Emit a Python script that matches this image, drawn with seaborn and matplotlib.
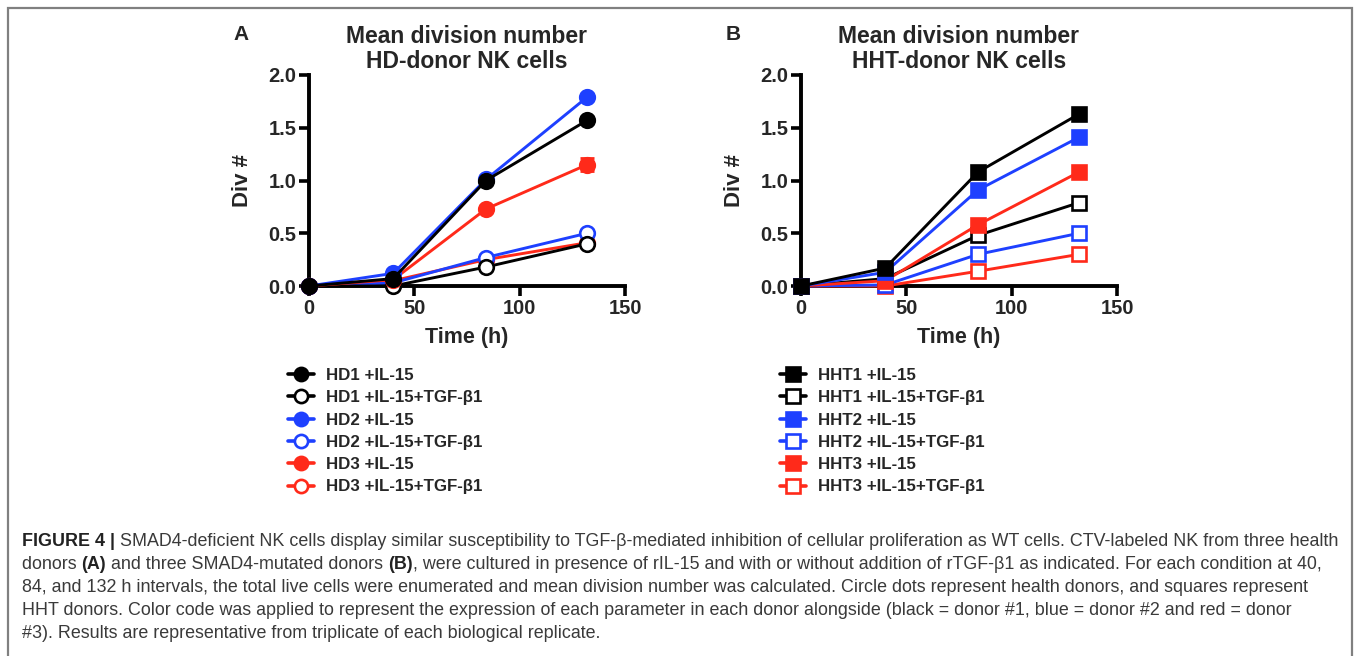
import numpy as np
import pandas as pd
import matplotlib
matplotlib.use("Agg")
import matplotlib.pyplot as plt
import seaborn as sns
from matplotlib.lines import Line2D
from matplotlib.patches import Rectangle

# ---------------- data ----------------
time_h = [0, 40, 84, 132]

hd_labels = ["HD1 +IL-15", "HD1 +IL-15+TGF-β1", "HD2 +IL-15",
             "HD2 +IL-15+TGF-β1", "HD3 +IL-15", "HD3 +IL-15+TGF-β1"]
hd1_il15 = [0, 0.07, 1.00, 1.57]
hd1_tgf = [0, 0.00, 0.18, 0.40]
hd2_il15 = [0, 0.12, 1.01, 1.79]
hd2_tgf = [0, 0.03, 0.27, 0.50]
hd3_il15 = [0, 0.06, 0.73, 1.15]
hd3_tgf = [0, 0.05, 0.25, 0.41]
hd3_il15_err = [0, 0, 0, 0.06]

hht_labels = ["HHT1 +IL-15", "HHT1 +IL-15+TGF-β1", "HHT2 +IL-15",
              "HHT2 +IL-15+TGF-β1", "HHT3 +IL-15", "HHT3 +IL-15+TGF-β1"]
hht1_il15 = [0, 0.17, 1.08, 1.63]
hht1_tgf = [0, 0.07, 0.48, 0.79]
hht2_il15 = [0, 0.13, 0.91, 1.41]
hht2_tgf = [0, 0.01, 0.30, 0.50]
hht3_il15 = [0, 0.05, 0.58, 1.08]
hht3_tgf = [0, 0.00, 0.14, 0.30]

x_ticks = [0, 50, 100, 150]
y_ticks = [0.0, 0.5, 1.0, 1.5, 2.0]

caption_lines = [
    [("FIGURE 4 |", True), (" SMAD4-deficient NK cells display similar susceptibility to TGF-β-mediated inhibition of cellular proliferation as WT cells. CTV-labeled NK from three health", False)],
    [("donors ", False), ("(A)", True), (" and three SMAD4-mutated donors ", False), ("(B)", True), (", were cultured in presence of rIL-15 and with or without addition of rTGF-β1 as indicated. For each condition at 40,", False)],
    [("84, and 132 h intervals, the total live cells were enumerated and mean division number was calculated. Circle dots represent health donors, and squares represent", False)],
    [("HHT donors. Color code was applied to represent the expression of each parameter in each donor alongside (black = donor #1, blue = donor #2 and red = donor", False)],
    [("#3). Results are representative from triplicate of each biological replicate.", False)],
]

BLACK = "#000000"
BLUE = "#1E40FF"
RED = "#FF2A1A"
colors = [BLACK, BLACK, BLUE, BLUE, RED, RED]
filled = [True, False, True, False, True, False]

sns.set_theme(style="ticks")
plt.rcParams["font.family"] = ["Liberation Sans", "DejaVu Sans"]
plt.rcParams["font.weight"] = "bold"

W, H = 1357, 656
fig = plt.figure(figsize=(W / 100, H / 100), dpi=100)

# outer frame
fig.patches.append(Rectangle((7.5 / W, -0.01), (1352 - 7.5) / W, (H - 8.5) / H + 0.01,
                             transform=fig.transFigure, fill=False,
                             edgecolor="#808080", linewidth=1.6))


def panel(left_px, series, labels, marker, title, letter, letter_x, err=None):
    ax = fig.add_axes([left_px / W, 1 - 286 / H, 316 / W, (286 - 75) / H])
    ms = 10.5 if marker == "o" else 10
    order = [5, 3, 1, 4, 2, 0]
    for i in order:
        df = pd.DataFrame({"t": time_h, "v": series[i]})
        mfc = colors[i] if filled[i] else "white"
        sns.lineplot(data=df, x="t", y="v", ax=ax, color=colors[i], marker=marker,
                     markersize=ms, markerfacecolor=mfc, markeredgecolor=colors[i],
                     markeredgewidth=1.9, linewidth=2.1, clip_on=False,
                     zorder=3 + (1 if filled[i] else 0), legend=False)
    if err is not None:
        idx, e = err
        ax.errorbar(time_h, series[idx], yerr=e, fmt="none", ecolor=colors[idx],
                    elinewidth=2.0, capsize=5, capthick=2.0, zorder=2, clip_on=False)
    handles = []
    for i in range(6):
        mfc = colors[i] if filled[i] else "white"
        handles.append(Line2D([0], [0], color=colors[i], marker=marker,
                              markersize=9.5, markerfacecolor=mfc,
                              markeredgecolor=colors[i], markeredgewidth=1.9,
                              linewidth=2.6))
    ax.set_xlim(0, 150)
    ax.set_ylim(0, 2.0)
    ax.set_xticks(x_ticks)
    ax.set_yticks(y_ticks)
    ax.set_xticklabels([str(t) for t in x_ticks], fontsize=14.5, fontweight="bold")
    ax.set_yticklabels([f"{t:.1f}" for t in y_ticks], fontsize=14.5, fontweight="bold")
    ax.tick_params(axis="both", width=2.6, length=7, color="black", pad=2)
    for s in ["left", "bottom"]:
        ax.spines[s].set_linewidth(2.8)
        ax.spines[s].set_color("black")
    sns.despine(ax=ax)
    ax.set_xlabel("Time (h)", fontsize=15.5, fontweight="bold", labelpad=7)
    ax.set_ylabel("Div #", fontsize=16, fontweight="bold", labelpad=11)
    ax.set_title(title, fontsize=16.5, fontweight="bold", pad=5, linespacing=1.1)
    fig.text(letter_x / W, 1 - 35 / H, letter, fontsize=15, fontweight="bold",
             ha="center", va="center")
    fig.legend(handles=handles, labels=labels, loc="upper left",
               bbox_to_anchor=((left_px - 21) / W, 1 - 368 / H),
               frameon=False, handlelength=1.55, handletextpad=0.7,
               labelspacing=0.43, borderpad=0, borderaxespad=0,
               prop={"weight": "bold", "size": 12.2})
    return ax


panel(309, [hd1_il15, hd1_tgf, hd2_il15, hd2_tgf, hd3_il15, hd3_tgf], hd_labels, "o",
      "Mean division number\nHD-donor NK cells", "A", 241, err=(4, hd3_il15_err))
panel(801, [hht1_il15, hht1_tgf, hht2_il15, hht2_tgf, hht3_il15, hht3_tgf], hht_labels, "s",
      "Mean division number\nHHT-donor NK cells", "B", 733)

# ---------------- caption ----------------
fig.canvas.draw()
renderer = fig.canvas.get_renderer()
cap_color = "#3a3a3a"
base_y = [546, 569, 592, 615, 638]
for line, yb in zip(caption_lines, base_y):
    x = 22
    for txt, bold in line:
        t = fig.text(x / W, 1 - yb / H, txt, fontsize=12.85,
                     fontweight="bold" if bold else "normal",
                     color="#222222" if bold else cap_color, va="baseline", ha="left",
                     family=["Liberation Sans", "DejaVu Sans"])
        bb = t.get_window_extent(renderer=renderer)
        x += bb.width

fig.savefig("out.png", dpi=100)
